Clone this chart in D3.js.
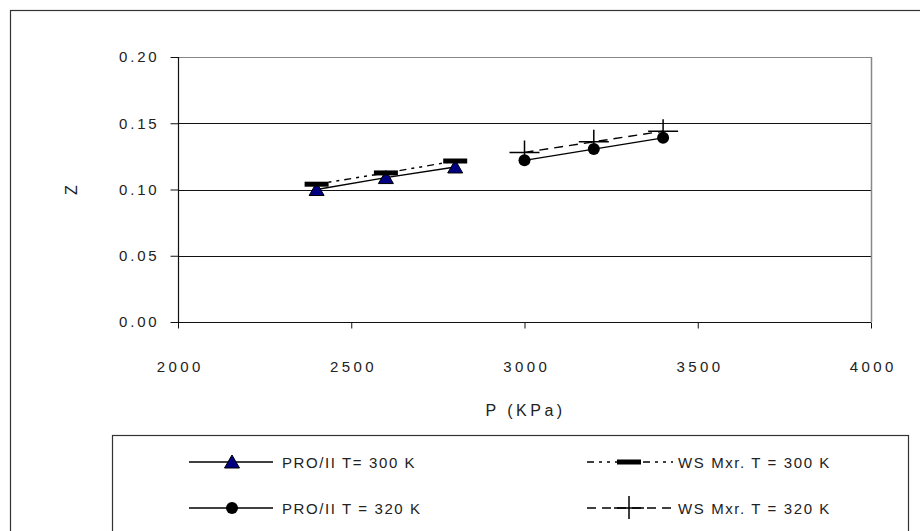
<!DOCTYPE html>
<html>
<head>
<meta charset="utf-8">
<script src="https://cdn.jsdelivr.net/npm/d3@7"></script>
<style>
  body { margin: 0; background: #fff; }
  text { font-family: "Liberation Sans", Arial, sans-serif; fill: #222; }
</style>
</head>
<body>
<div id="chart"></div>
<script>
// data
var pressure300 = [2400, 2600, 2800];
var zPro300 = [0.100, 0.109, 0.117];
var zWs300 = [0.104, 0.1125, 0.1215];
var pressure320 = [3000, 3200, 3400];
var zPro320 = [0.122, 0.1305, 0.139];
var zWs320 = [0.128, 0.136, 0.144];
var xTicks = [2000, 2500, 3000, 3500, 4000];
var yTicks = [0, 0.05, 0.10, 0.15, 0.20];
var seriesNames = ["PRO/II T= 300 K", "WS Mxr. T = 300 K", "PRO/II T = 320 K", "WS Mxr. T = 320 K"];

var W = 920, H = 531;
var plot = {left: 178, top: 57, right: 871, bottom: 322};

var svg = d3.select("#chart").append("svg")
    .attr("width", W).attr("height", H);

// outer frame (runs off the right and bottom)
svg.append("rect")
    .attr("x", 10.5).attr("y", 10.5)
    .attr("width", 930).attr("height", 560)
    .attr("fill", "none").attr("stroke", "#333").attr("stroke-width", 1.2);

var x = d3.scaleLinear().domain([2000, 4000]).range([plot.left, plot.right]);
var y = d3.scaleLinear().domain([0, 0.20]).range([plot.bottom, plot.top]);

// gridlines
svg.append("g")
    .selectAll("line")
    .data(yTicks.filter(d => d > 0))
    .join("line")
        .attr("x1", plot.left).attr("x2", plot.right)
        .attr("y1", d => Math.round(y(d)) + 0.5).attr("y2", d => Math.round(y(d)) + 0.5)
        .attr("stroke", d => d === 0.20 ? "#888" : "#111")
        .attr("stroke-width", 1);

// right plot border
svg.append("line")
    .attr("x1", plot.right + 0.5).attr("x2", plot.right + 0.5)
    .attr("y1", plot.top).attr("y2", plot.bottom)
    .attr("stroke", "#888").attr("stroke-width", 1.5);

// axes
var xAxis = svg.append("g")
    .attr("transform", "translate(0," + (plot.bottom + 0.5) + ")")
    .call(d3.axisBottom(x).tickValues(xTicks).tickSize(6).tickPadding(33).tickFormat(d3.format("d")));
var yAxis = svg.append("g")
    .attr("transform", "translate(" + (plot.left + 0.5) + ",0)")
    .call(d3.axisLeft(y).tickValues(yTicks).tickSize(8).tickPadding(11).tickFormat(d3.format(".2f")));

[xAxis, yAxis].forEach(function(g) {
    g.select(".domain").attr("stroke", "#111").attr("stroke-width", 1.2);
    g.selectAll(".tick line").attr("stroke", "#111");
    g.selectAll(".tick text")
        .style("font-size", "15px")
        .attr("fill", "#222")
        .attr("font-family", "Liberation Sans, Arial, sans-serif");
});
xAxis.selectAll(".tick text").style("letter-spacing", "3.4px").attr("dx", "1.7px");
yAxis.selectAll(".tick text").style("letter-spacing", "2.8px");
xAxis.select(".domain").attr("d", "M" + plot.left + ",0H" + plot.right);
yAxis.select(".domain").attr("d", "M0," + plot.bottom + "V" + plot.top);

// axis titles
svg.append("text")
    .attr("x", (plot.left + plot.right) / 2 + 1).attr("y", 416)
    .attr("text-anchor", "middle")
    .style("font-size", "16px").style("letter-spacing", "3.5px")
    .text("P (KPa)");
svg.append("text")
    .attr("transform", "translate(77,190) rotate(-90)")
    .attr("text-anchor", "middle")
    .style("font-size", "16px")
    .text("Z");

// series
var series = [
    {name: seriesNames[0], px: pressure300, z: zPro300, dash: null, marker: "triangle"},
    {name: seriesNames[1], px: pressure300, z: zWs300, dash: "7,5,3,5,3,5", marker: "bar"},
    {name: seriesNames[2], px: pressure320, z: zPro320, dash: null, marker: "circle"},
    {name: seriesNames[3], px: pressure320, z: zWs320, dash: "9,6", marker: "cross"}
];

var line = d3.line().x(d => x(d[0])).y(d => y(d[1]));

function drawMarker(g, type, cx, cy) {
    if (type === "triangle") {
        g.append("path")
            .attr("d", "M" + cx + "," + (cy - 7) + "L" + (cx + 7.5) + "," + (cy + 6) + "L" + (cx - 7.5) + "," + (cy + 6) + "Z")
            .attr("fill", "#000080").attr("stroke", "#000").attr("stroke-width", 1);
    } else if (type === "bar") {
        g.append("rect")
            .attr("x", cx - 12).attr("y", cy - 2.5)
            .attr("width", 24).attr("height", 5)
            .attr("fill", "#000");
    } else if (type === "circle") {
        g.append("circle")
            .attr("cx", cx).attr("cy", cy).attr("r", 6)
            .attr("fill", "#000");
    } else if (type === "cross") {
        g.append("path")
            .attr("d", "M" + (cx - 15) + "," + cy + "H" + (cx + 15) + "M" + cx + "," + (cy - 12) + "V" + (cy + 11))
            .attr("stroke", "#000").attr("stroke-width", 1.5).attr("fill", "none");
    }
}

var order = [0, 2, 1, 3];
order.forEach(function(i) {
    var s = series[i];
    var pts = s.px.map((p, k) => [p, s.z[k]]);
    svg.append("path")
        .attr("d", line(pts))
        .attr("fill", "none")
        .attr("stroke", "#000")
        .attr("stroke-width", 1.4)
        .attr("stroke-dasharray", s.dash);
});
order.forEach(function(i) {
    var s = series[i];
    var g = svg.append("g");
    s.px.forEach(function(p, k) {
        drawMarker(g, s.marker, x(p), y(s.z[k]));
    });
});

// legend
svg.append("rect")
    .attr("x", 112.5).attr("y", 435.5)
    .attr("width", 796).attr("height", 130)
    .attr("fill", "none").attr("stroke", "#333").attr("stroke-width", 1.2);

var legendPos = [
    {x: 189, y: 462}, {x: 587, y: 462},
    {x: 189, y: 508}, {x: 587, y: 508}
];
series.forEach(function(s, i) {
    var p = legendPos[i];
    var g = svg.append("g");
    var len = i % 2 === 0 ? 84 : 86;
    g.append("line")
        .attr("x1", p.x).attr("x2", p.x + len)
        .attr("y1", p.y).attr("y2", p.y)
        .attr("stroke", "#000").attr("stroke-width", 1.4)
        .attr("stroke-dasharray", s.dash);
    drawMarker(g, s.marker, p.x + (i % 2 === 0 ? 43 : 42), p.y);
    g.append("text")
        .attr("x", p.x + len + (i % 2 === 0 ? 9 : 5)).attr("y", p.y + 5.5)
        .style("font-size", "15px").style("letter-spacing", "1.6px")
        .text(s.name);
});
</script>
</body>
</html>
